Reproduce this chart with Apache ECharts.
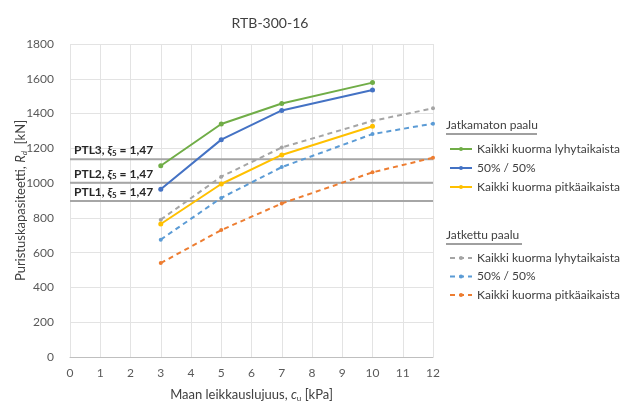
<!DOCTYPE html>
<html><head><meta charset="utf-8">
<script src="https://cdn.jsdelivr.net/npm/echarts@6/dist/echarts.min.js"></script>
<style>html,body{margin:0;padding:0;background:#fff}#c{width:623px;height:402px}</style>
</head><body><div id="c"></div>
<script>
const xValues = [3, 5, 7, 10];
const xValuesExt = [3, 5, 7, 10, 12];
const solidShort = [1100, 1340, 1458, 1578];
const solidHalf = [965, 1250, 1418, 1535];
const solidLong = [765, 995, 1162, 1327];
const dashShort = [790, 1037, 1205, 1358, 1430];
const dashHalf = [675, 915, 1092, 1282, 1342];
const dashLong = [540, 730, 883, 1062, 1146];
const ptlNames = ['PTL3', 'PTL2', 'PTL1'];
const ptlValues = [1137, 1002, 897];
const xiValue = '1,47';
const legendNames = ['Kaikki kuorma lyhytaikaista', '50% / 50%', 'Kaikki kuorma pitkäaikaista'];

const FONT = 'Lato';
const chart = echarts.init(document.getElementById('c'));
function pairs(xs, ys){ return xs.map((x,i)=>[x, ys[i]]); }
function solid(name, color, ys){
  return {name: 'A:' + name, type:'line', data: pairs(xValues, ys), color,
    symbol:'circle', symbolSize:5, lineStyle:{width:2, color}, itemStyle:{color}, z:5};
}
function dashed(name, color, ys){
  return {name: 'B:' + name, type:'line', data: pairs(xValuesExt, ys), color,
    symbol:'circle', symbolSize:4, lineStyle:{width:2, color, type:[5,4]}, itemStyle:{color}, z:4};
}
const ptlSeries = ptlNames.map((n,i)=>({
  name: n, type:'line', data: [[0, ptlValues[i]], [12, ptlValues[i]]], symbol:'none',
  lineStyle:{color:'#a6a6a6', width:2}, z:2, silent:true,
  markPoint:{symbol:'rect', symbolSize:0, data:[{coord:[0, ptlValues[i]]}],
    label:{show:true, position:[4,-16],
      formatter: n + ', {x|ξ}{s|5} = ' + xiValue,
      color:'#262626', fontFamily:FONT, fontSize:12, fontWeight:'bold',
      rich:{x:{fontStyle:'italic', fontFamily:FONT, fontSize:12, color:'#262626', fontWeight:'bold'},
            s:{fontSize:8, fontFamily:FONT, color:'#262626', padding:[6,0,0,0], fontWeight:'bold'}}}}
}));
const legendFmt = n => n.slice(2);
chart.setOption({
  animation:false,
  textStyle:{fontFamily:FONT},
  title:{text:'RTB-300-16', left:265, top:11, textAlign:'center',
    textStyle:{fontFamily:FONT, fontSize:14, fontWeight:'normal', color:'#404040'}},
  grid:{left:70, right:190, top:44, bottom:45, containLabel:false, outerBoundsMode:'none'},
  xAxis:{type:'value', min:0, max:12, interval:1,
    name:'Maan leikkauslujuus, {i|c}{s|u} [kPa]', nameLocation:'middle', nameGap:30, nameMoveOverlap:false,
    nameTextStyle:{fontFamily:FONT, fontSize:13, color:'#404040',
      rich:{i:{fontStyle:'italic', fontSize:13, fontFamily:FONT, color:'#404040'},
            s:{fontSize:8, fontFamily:FONT, color:'#404040', padding:[7,0,0,0]}}},
    axisLine:{lineStyle:{color:'#bfbfbf'}}, axisTick:{show:false},
    axisLabel:{color:'#595959', fontSize:12, margin:10, fontFamily:FONT},
    splitLine:{show:true, lineStyle:{color:'#e3e3e3'}}},
  yAxis:{type:'value', min:0, max:1800, interval:200,
    name:'Puristuskapasiteetti, {i|R}{s|d}  [kN]', nameLocation:'middle', nameGap:42, nameMoveOverlap:false,
    nameTextStyle:{fontFamily:FONT, fontSize:13, color:'#404040',
      rich:{i:{fontStyle:'italic', fontSize:13, fontFamily:FONT, color:'#404040'},
            s:{fontSize:8, fontStyle:'italic', fontFamily:FONT, color:'#404040', padding:[7,0,0,0]}}},
    axisLine:{show:false}, axisTick:{show:false},
    axisLabel:{color:'#595959', fontSize:12, margin:16, fontFamily:FONT, formatter: v => String(v)},
    splitLine:{show:true, lineStyle:{color:'#e3e3e3'}}},
  legend:[
    {orient:'vertical', left:444, top:138, itemWidth:22, itemHeight:5, itemGap:7,
      data: legendNames.map(n=>'A:'+n), formatter: legendFmt,
      textStyle:{fontFamily:FONT, fontSize:12, color:'#404040'}, selectedMode:false},
    {orient:'vertical', left:444, top:247, itemWidth:22, itemHeight:5, itemGap:6.5,
      data: legendNames.map(n=>'B:'+n), formatter: legendFmt,
      textStyle:{fontFamily:FONT, fontSize:12, color:'#404040'}, selectedMode:false}
  ],
  graphic:[
    {type:'text', left:446, top:119, style:{text:'Jatkamaton paalu', fontFamily:FONT, fontSize:12, fill:'#404040'}},
    {type:'line', shape:{x1:446, y1:134, x2:537, y2:134}, style:{stroke:'#404040', lineWidth:1}},
    {type:'text', left:446, top:229, style:{text:'Jatkettu paalu', fontFamily:FONT, fontSize:12, fill:'#404040'}},
    {type:'line', shape:{x1:446, y1:244, x2:522, y2:244}, style:{stroke:'#404040', lineWidth:1}}
  ],
  series:[
    ...ptlSeries,
    solid(legendNames[0], '#70ad47', solidShort),
    solid(legendNames[1], '#4472c4', solidHalf),
    solid(legendNames[2], '#ffc000', solidLong),
    dashed(legendNames[0], '#a5a5a5', dashShort),
    dashed(legendNames[1], '#5b9bd5', dashHalf),
    dashed(legendNames[2], '#ed7d31', dashLong)
  ]
});
</script></body></html>
